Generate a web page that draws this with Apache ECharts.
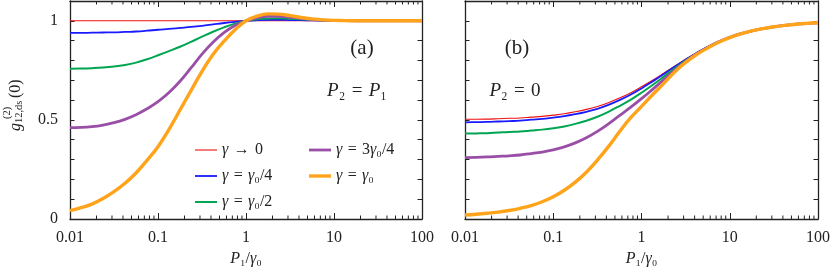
<!DOCTYPE html>
<html><head><meta charset="utf-8">
<script src="https://cdn.jsdelivr.net/npm/echarts@6/dist/echarts.min.js"></script>
<style>html,body{margin:0;padding:0;background:#fff}#c{width:831px;height:273px}</style>
</head><body><div id="c"></div>
<script>
// x samples (P1/gamma0), eighth-decade spacing
const P = [0.01,0.01334,0.01778,0.02371,0.03162,0.04217,0.05623,0.07499,
           0.1,0.1334,0.1778,0.2371,0.3162,0.4217,0.5623,0.7499,
           1,1.334,1.778,2.371,3.162,4.217,5.623,7.499,
           10,13.34,17.78,23.71,31.62,42.17,56.23,74.99,100];
// panel (a) P2 = P1
const redA    = [1,1,1,1,1,1,1,1, 1,1,1,1,1,1,1,1, 1,1,1,1,1,1,1,1, 1,1,1,1,1,1,1,1,1];
const blueA   = [0.939,0.939,0.940,0.941,0.942,0.944,0.946,0.950, 0.955,0.959,0.964,0.969,0.975,0.982,0.989,0.995,
                 1.000,1.003,1.005,1.005,1.004,1.003,1.002,1.001, 1.000,1,1,1,1,1,1,1,1];
const greenA  = [0.758,0.759,0.761,0.764,0.769,0.777,0.789,0.806, 0.826,0.847,0.869,0.894,0.920,0.945,0.967,0.986,
                 1.000,1.008,1.012,1.013,1.011,1.008,1.005,1.003, 1.001,1,1,1,1,1,1,1,1];
const purpleA = [0.461,0.462,0.466,0.474,0.486,0.503,0.526,0.556, 0.592,0.638,0.695,0.762,0.832,0.892,0.940,0.976,
                 1.000,1.015,1.023,1.023,1.018,1.012,1.007,1.004, 1.002,1.001,1,1,1,1,1,1,1];
const orangeA = [0.042,0.057,0.075,0.103,0.138,0.180,0.232,0.296, 0.365,0.452,0.550,0.648,0.745,0.830,0.897,0.955,
                 1.000,1.024,1.035,1.034,1.026,1.017,1.010,1.005, 1.002,1.001,1,1,1,1,1,1,1];
// panel (b) P2 = 0
const redB    = [0.503,0.503,0.504,0.506,0.508,0.510,0.514,0.518, 0.524,0.531,0.541,0.553,0.568,0.587,0.610,0.636,
                 0.667,0.700,0.735,0.771,0.806,0.839,0.869,0.895, 0.917,0.935,0.949,0.961,0.970,0.977,0.983,0.987,0.990];
const blueB   = [0.488,0.489,0.490,0.492,0.494,0.496,0.501,0.505, 0.512,0.519,0.529,0.541,0.556,0.576,0.600,0.627,
                 0.659,0.694,0.730,0.768,0.804,0.838,0.869,0.895, 0.917,0.935,0.949,0.961,0.970,0.977,0.983,0.987,0.990];
const greenB  = [0.431,0.432,0.433,0.436,0.439,0.441,0.446,0.451, 0.458,0.467,0.480,0.496,0.516,0.541,0.570,0.601,
                 0.637,0.676,0.717,0.759,0.799,0.835,0.867,0.894, 0.917,0.935,0.949,0.961,0.970,0.977,0.983,0.987,0.990];
const purpleB = [0.310,0.311,0.313,0.316,0.319,0.323,0.330,0.338, 0.349,0.364,0.384,0.410,0.442,0.480,0.522,0.563,
                 0.607,0.654,0.702,0.750,0.794,0.833,0.866,0.894, 0.917,0.935,0.949,0.961,0.970,0.977,0.983,0.987,0.990];
const orangeB = [0.020,0.024,0.029,0.035,0.043,0.054,0.068,0.087, 0.112,0.145,0.186,0.236,0.297,0.365,0.440,0.510,
                 0.568,0.627,0.683,0.742,0.790,0.830,0.863,0.892, 0.915,0.934,0.949,0.961,0.970,0.977,0.983,0.987,0.990];
// axis ticks
const xTickLabels = ['0.01','0.1','1','10','100'];
const yTickLabels = {0:'0', 0.5:'0.5', 1:'1'};
const minorTicks = [0.02,0.03,0.04,0.05,0.06,0.07,0.08,0.09,0.2,0.3,0.4,0.5,0.6,0.7,0.8,0.9,2,3,4,5,6,7,8,9,20,30,40,50,60,70,80,90];
const SP = '\u2004';
const names = ['γ'+SP+'→'+SP+'0','γ'+SP+'='+SP+'γ₀/4','γ'+SP+'='+SP+'γ₀/2','γ'+SP+'='+SP+'3γ₀/4','γ'+SP+'='+SP+'γ₀'];

const colors = ['#ee1111','#1a1aff','#00a552','#9a4fa6','#ffa31a'];
const widths = [1.1,1.8,2.0,2.8,3.4];
const FONT = "'Liberation Serif','DejaVu Serif',serif";
const AX = '#222';

const chart = echarts.init(document.getElementById('c'), null, {renderer:'canvas'});

function xAx(grid, top){
  return {type:'log', logBase:10, gridIndex:grid, min:0.01, max:100, interval:1,
    position: top?'top':'bottom',
    axisLine:{show:true, onZero:false, lineStyle:{color:AX, width:1.3}},
    axisTick:{show:true, inside:true, length:6, lineStyle:{color:AX, width:1}},
    axisLabel:{show:!top, margin:11, color:'#222', fontSize:16, fontFamily:FONT,
      formatter:(v)=>xTickLabels[Math.round(Math.log10(v))+2]},
    splitLine:{show:false},
    name: top?'':'{i|P}₁/{i|γ}₀', nameLocation:'middle', nameGap:29,
    nameTextStyle:{color:'#222', fontSize:16, fontFamily:FONT,
      rich:{i:{fontStyle:'italic', fontSize:16, fontFamily:FONT, color:'#222'}}}
  };
}
function yAx(grid, right, labels){
  return {type:'value', gridIndex:grid, min:0, max:1.1, interval:0.1,
    position: right?'right':'left',
    axisLine:{show:true, onZero:false, lineStyle:{color:AX, width:1.3}},
    axisTick:{show:true, inside:true, length:4.5, lineStyle:{color:AX, width:1}},
    axisLabel:{show:labels, margin:12, color:'#222', fontSize:16, fontFamily:FONT,
      formatter:(v)=>{for(const k in yTickLabels){ if(Math.abs(v-Number(k))<1e-6) return yTickLabels[k]; } return '';}},
    splitLine:{show:false}
  };
}

const series = [];
const dataA = [redA,blueA,greenA,purpleA,orangeA];
const dataB = [redB,blueB,greenB,purpleB,orangeB];
[dataA, dataB].forEach((set, panel)=>{
  set.forEach((arr, k)=>{
    series.push({type:'line', name:names[k], xAxisIndex:panel, yAxisIndex:panel,
      data: P.map((p,i)=>[p, arr[i]]), showSymbol:false, symbol:'none', smooth:0.4,
      lineStyle:{color:colors[k], width:widths[k]}, itemStyle:{color:colors[k]},
      z: 2+k, animation:false});
  });
  series.push({type:'custom', name:'minor'+panel, xAxisIndex:panel, yAxisIndex:panel, silent:true,
    clip:false, animation:false,
    data: minorTicks.map(v=>[v,0]),
    renderItem:(params, api)=>{
      const x = api.coord([api.value(0), 0])[0];
      const cs = params.coordSys;
      return {type:'group', children:[
        {type:'line', shape:{x1:x,y1:cs.y+cs.height,x2:x,y2:cs.y+cs.height-3.5}, style:{stroke:AX, lineWidth:1}},
        {type:'line', shape:{x1:x,y1:cs.y,x2:x,y2:cs.y+3.5}, style:{stroke:AX, lineWidth:1}}
      ]};
    }});
});

const legendText = {fontSize:16, fontFamily:FONT, color:'#222',
  rich:{i:{fontStyle:'italic', fontSize:16, fontFamily:FONT, color:'#222'}, n:{fontSize:16, fontFamily:FONT, color:'#222'}}};
const fmt = (name)=> name.split('γ').map(s=>s?'{n|'+s+'}':'').join('{i|γ}');
const legendItem = (k)=>({name:names[k], icon:'path://M0,0H22V'+widths[k]+'H0Z'});

chart.setOption({
  animation:false,
  backgroundColor:'#fff',
  grid:[
    {left:70, top:1, width:352, height:218, outerBoundsMode:'none'},
    {left:465, top:1, width:353, height:218, outerBoundsMode:'none'}
  ],
  xAxis:[xAx(0,false), xAx(1,false), xAx(0,true), xAx(1,true)],
  yAxis:[yAx(0,false,true), yAx(1,false,false), yAx(0,true,false), yAx(1,true,false)],
  legend:[
    {data:[0,1,2].map(legendItem), orient:'vertical', left:190, top:137, itemWidth:22, itemHeight:14, itemGap:10,
      textStyle:legendText, formatter:fmt, selectedMode:false, itemStyle:{borderWidth:0}},
    {data:[3,4].map(legendItem), orient:'vertical', left:304, top:137, itemWidth:22, itemHeight:14, itemGap:10,
      textStyle:legendText, formatter:fmt, selectedMode:false, itemStyle:{borderWidth:0}}
  ],
  graphic:[
    {type:'text', x:362, y:48, style:{text:'(a)', fontSize:21, fontFamily:FONT, fill:'#222', align:'center', verticalAlign:'middle'}},
    {type:'text', x:357, y:91, style:{text:'{i|P}₂'+SP+'='+SP+'{i|P}₁', fontSize:19, fontFamily:FONT, fill:'#222', align:'center', verticalAlign:'middle',
      rich:{i:{fontStyle:'italic', fontSize:19, fontFamily:FONT, fill:'#222'}}}},
    {type:'text', x:517, y:48, style:{text:'(b)', fontSize:21, fontFamily:FONT, fill:'#222', align:'center', verticalAlign:'middle'}},
    {type:'text', x:515, y:91, style:{text:'{i|P}₂'+SP+'='+SP+'0', fontSize:19, fontFamily:FONT, fill:'#222', align:'center', verticalAlign:'middle',
      rich:{i:{fontStyle:'italic', fontSize:19, fontFamily:FONT, fill:'#222'}}}},
    {type:'group', x:16, y:131, rotation:Math.PI/2, children:[
      {type:'text', x:0, y:0, style:{text:'g', fontSize:16, fontStyle:'italic', fontFamily:FONT, fill:'#222', align:'left', verticalAlign:'middle'}},
      {type:'text', x:12, y:-9, style:{text:'(2)', fontSize:10.5, fontFamily:FONT, fill:'#222', align:'left', verticalAlign:'middle'}},
      {type:'text', x:8, y:3, style:{text:'12,ds', fontSize:10.5, fontFamily:FONT, fill:'#222', align:'left', verticalAlign:'middle'}},
      {type:'text', x:33, y:0, style:{text:'(0)', fontSize:16, fontFamily:FONT, fill:'#222', align:'left', verticalAlign:'middle'}}
    ]}
  ],
  series: series
});
</script></body></html>
